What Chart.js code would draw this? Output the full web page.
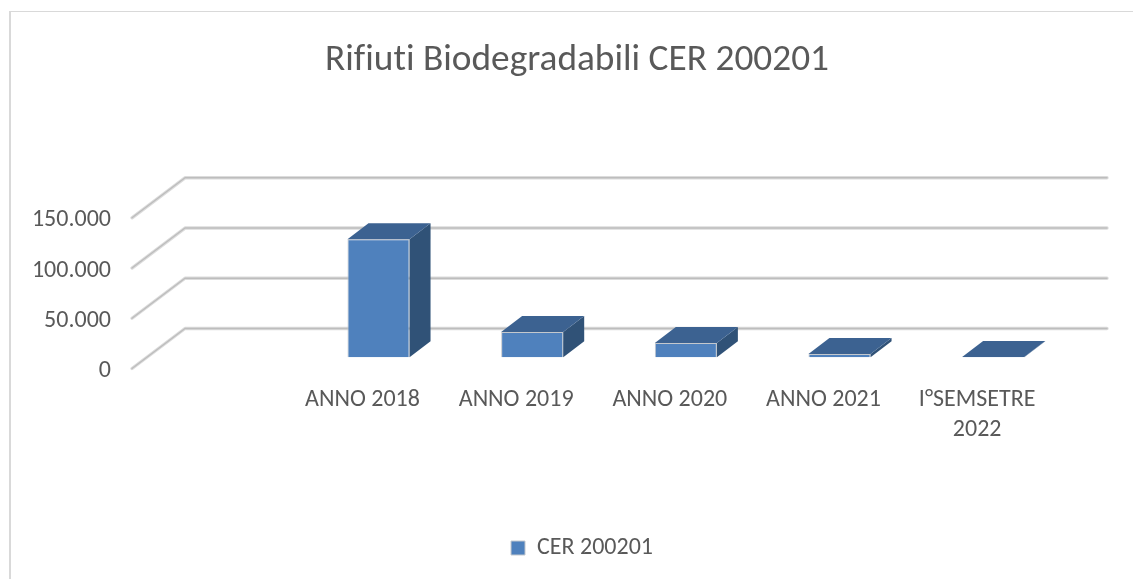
<!DOCTYPE html>
<html>
<head>
<meta charset="utf-8">
<title>Rifiuti Biodegradabili CER 200201</title>
<script src="https://cdn.jsdelivr.net/npm/chart.js@4"></script>
<style>
  html, body { margin: 0; padding: 0; background: #fff; }
  #wrap { width: 1133px; height: 579px; overflow: hidden; }
</style>
</head>
<body>
<div id="wrap"><canvas id="chart" width="1133" height="579"></canvas></div>
<script>
/* DATA (first category is empty in the original sheet) */
const categories = ["", "ANNO 2018", "ANNO 2019", "ANNO 2020", "ANNO 2021", ["I°SEMSETRE", "2022"]];
const seriesName = "CER 200201";
const values = [null, 117500, 25200, 14200, 3300, 200];
const yTicks = [0, 50000, 100000, 150000];

const TEXT = "#595959";
const FONT = "Carlito, Lato, 'Open Sans', sans-serif";

/* fake 3D: grid walls + bar side/top faces */
const WALL_DX = 53, WALL_DY = 40;
const BAR_DX = 21, BAR_DY = 16;
const BAR_SHIFT_X = 16, BAR_SHIFT_Y = 11.3;
const LEGEND_SHIFT = 5;

const poly = (ctx, pts, fill) => {
  ctx.beginPath();
  pts.forEach((p, i) => i ? ctx.lineTo(p[0], p[1]) : ctx.moveTo(p[0], p[1]));
  ctx.closePath();
  ctx.fillStyle = fill;
  ctx.fill();
};

const fake3d = {
  id: "fake3d",
  afterLayout(chart) {
    chart.legend.left += LEGEND_SHIFT;
    chart.legend.right += LEGEND_SHIFT;
  },
  beforeDraw(chart) {
    const ctx = chart.ctx;
    // no ligatures in the labels
    ctx.textRendering = "optimizeSpeed";
    ctx.save();
    ctx.fillStyle = "#d9d9d9";
    ctx.fillRect(9, 11, 1124, 1);
    ctx.fillRect(9, 11, 2, 568);
    ctx.restore();
  },
  beforeDatasetsDraw(chart) {
    const { ctx, chartArea, scales } = chart;
    ctx.save();
    ctx.lineCap = "round";
    ctx.lineJoin = "round";
    scales.y.ticks.forEach(t => {
      const y = scales.y.getPixelForValue(t.value);
      ctx.beginPath();
      ctx.moveTo(chartArea.left, y);
      ctx.lineTo(chartArea.left + WALL_DX, y - WALL_DY);
      ctx.lineTo(chartArea.right + WALL_DX, y - WALL_DY);
      ctx.strokeStyle = "#dcdcdc";
      ctx.lineWidth = 3.4;
      ctx.stroke();
      ctx.strokeStyle = "#bdbdbd";
      ctx.lineWidth = 1.4;
      ctx.stroke();
    });
    ctx.restore();
    ctx.save();
    ctx.translate(BAR_SHIFT_X, -BAR_SHIFT_Y);
  },
  afterDatasetsDraw(chart) {
    const ctx = chart.ctx;
    chart.getDatasetMeta(0).data.forEach((bar, i) => {
      if (values[i] == null) return;
      const l = bar.x - bar.width / 2, r = bar.x + bar.width / 2;
      const t = bar.y, b = bar.base;
      poly(ctx, [[r, t], [r + BAR_DX, t - BAR_DY], [r + BAR_DX, b - BAR_DY], [r, b]], "#305277");
      poly(ctx, [[l, t], [l + BAR_DX, t - BAR_DY], [r + BAR_DX, t - BAR_DY], [r, t]], "#3c6291");
    });
    ctx.restore();
  }
};

new Chart(document.getElementById("chart"), {
  type: "bar",
  data: {
    labels: categories,
    datasets: [{
      label: seriesName,
      data: values,
      backgroundColor: "#4f81bd",
      borderColor: "#c4c8cd",
      borderWidth: 1,
      categoryPercentage: 1,
      barPercentage: 0.404,
      clip: false
    }]
  },
  plugins: [fake3d],
  options: {
    responsive: false,
    animation: false,
    layout: { padding: { left: 21, right: 0, top: 38, bottom: 9 } },
    plugins: {
      tooltip: { enabled: false },
      title: {
        display: true,
        text: "Rifiuti Biodegradabili CER 200201",
        color: TEXT,
        font: { family: FONT, size: 37.33, weight: "normal" },
        padding: { top: 0, bottom: 135 }
      },
      legend: {
        position: "bottom",
        labels: {
          color: TEXT,
          font: { family: FONT, size: 24 },
          boxWidth: 14,
          boxHeight: 14,
          padding: 6
        }
      }
    },
    scales: {
      x: {
        grid: { display: false },
        border: { display: false },
        afterFit(scale) { scale.height = 161.5; },
        ticks: {
          color: TEXT,
          font: { family: FONT, size: 24, lineHeight: 1.25 },
          autoSkip: false,
          maxRotation: 0,
          padding: 8
        }
      },
      y: {
        min: 0,
        max: 150000,
        afterFit(scale) { scale.width = 111; },
        afterBuildTicks(scale) { scale.ticks = yTicks.map(v => ({ value: v })); },
        grid: { display: false },
        border: { display: false },
        ticks: {
          color: TEXT,
          font: { family: FONT, size: 24 },
          padding: 13,
          labelOffset: 2.5,
          callback: v => v.toLocaleString("it-IT")
        }
      },
      /* empty axis, only keeps the space right of the plot */
      spacer: {
        position: "right",
        afterFit(scale) { scale.width = 79; },
        grid: { display: false },
        border: { display: false },
        ticks: { display: false }
      }
    }
  }
});
</script>
</body>
</html>
